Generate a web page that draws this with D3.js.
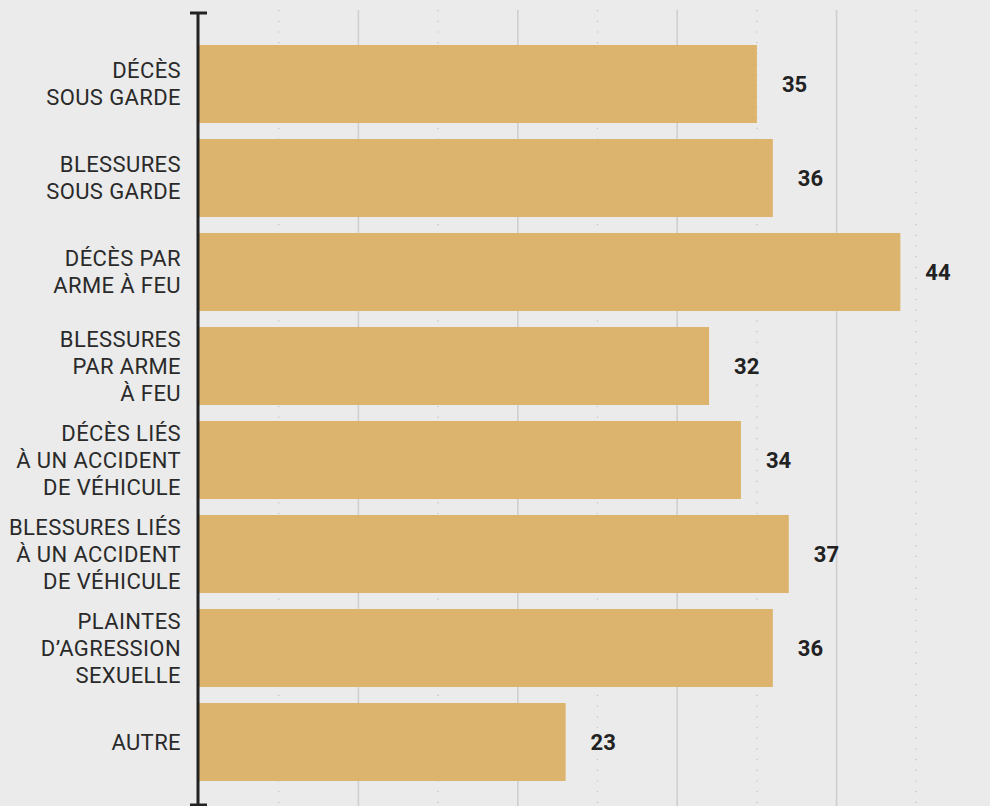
<!DOCTYPE html>
<html>
<head>
<meta charset="utf-8">
<script src="https://cdn.jsdelivr.net/npm/d3@7"></script>
<style>
  html, body { margin: 0; padding: 0; background: #ebebeb; }
  svg { display: block; }
</style>
</head>
<body>
<svg id="chart" width="990" height="806"></svg>
<script>
// Category labels (one entry per line) and their counts
const categories = [
  ["DÉCÈS", "SOUS GARDE"],
  ["BLESSURES", "SOUS GARDE"],
  ["DÉCÈS PAR", "ARME À FEU"],
  ["BLESSURES", "PAR ARME", "À FEU"],
  ["DÉCÈS LIÉS", "À UN ACCIDENT", "DE VÉHICULE"],
  ["BLESSURES LIÉS", "À UN ACCIDENT", "DE VÉHICULE"],
  ["PLAINTES", "D’AGRESSION", "SEXUELLE"],
  ["AUTRE"]
];
const values = [35, 36, 44, 32, 34, 37, 36, 23];
const majorTicks = [10, 20, 30, 40];
const minorTicks = [5, 15, 25, 35, 45];

const svg = d3.select("#chart");
const W = 990, H = 806;
const axisX = 199;

const x = d3.scaleLinear().domain([0, 50]).range([axisX, axisX + 50 * 15.94]);
const keys = categories.map((c, i) => i);
const y = d3.scaleBand().domain(keys).range([37, 789])
  .paddingInner(16 / 94).paddingOuter(8 / 94);

// Gridlines: solid at every 10, dotted halfway between
svg.append("g").selectAll("line").data(majorTicks).join("line")
  .attr("x1", d => x(d)).attr("x2", d => x(d))
  .attr("y1", 10).attr("y2", H)
  .attr("stroke", "#cfcfcf").attr("stroke-width", 1.6);

svg.append("g").selectAll("line").data(minorTicks).join("line")
  .attr("x1", d => x(d)).attr("x2", d => x(d))
  .attr("y1", 10).attr("y2", H)
  .attr("stroke", "#c4c4c4").attr("stroke-width", 1.3)
  .attr("stroke-dasharray", "1.2,9.5");

// Bars
svg.append("g").selectAll("rect").data(values).join("rect")
  .attr("x", x(0))
  .attr("y", (d, i) => y(i))
  .attr("width", d => x(d) - x(0))
  .attr("height", y.bandwidth())
  .attr("fill", "#ddb46e");

// Value labels
svg.append("g").selectAll("text").data(values).join("text")
  .attr("x", d => x(d) + 25)
  .attr("y", (d, i) => y(i) + y.bandwidth() / 2)
  .attr("dy", "0.36em")
  .attr("font-family", "Roboto, sans-serif")
  .attr("font-weight", 700)
  .attr("font-size", 22)
  .attr("fill", "#222")
  .text(d => d);

// Category labels, multi-line, right-aligned to the axis
const lineH = 27;
const labels = svg.append("g").selectAll("text").data(categories).join("text")
  .attr("text-anchor", "end")
  .attr("font-family", "Roboto, sans-serif")
  .attr("font-size", 22)
  .attr("letter-spacing", 0.4)
  .attr("fill", "#2a2a2a")
  .attr("transform", (d, i) => `translate(181,${y(i) + y.bandwidth() / 2})`);
labels.selectAll("tspan").data(d => d.map((t, j) => ({ t, j, n: d.length }))).join("tspan")
  .attr("x", 0)
  .attr("y", d => (d.j - (d.n - 1) / 2) * lineH)
  .attr("dy", "0.36em")
  .text(d => d.t);

// Vertical axis with end caps
const axis = svg.append("g").attr("stroke", "#222");
axis.append("line").attr("x1", axisX - 1).attr("x2", axisX - 1)
  .attr("y1", 12).attr("y2", 805).attr("stroke-width", 3);
axis.append("line").attr("x1", 190).attr("x2", 207)
  .attr("y1", 13).attr("y2", 13).attr("stroke-width", 3);
axis.append("line").attr("x1", 190).attr("x2", 207)
  .attr("y1", 805).attr("y2", 805).attr("stroke-width", 3);
</script>
</body>
</html>
